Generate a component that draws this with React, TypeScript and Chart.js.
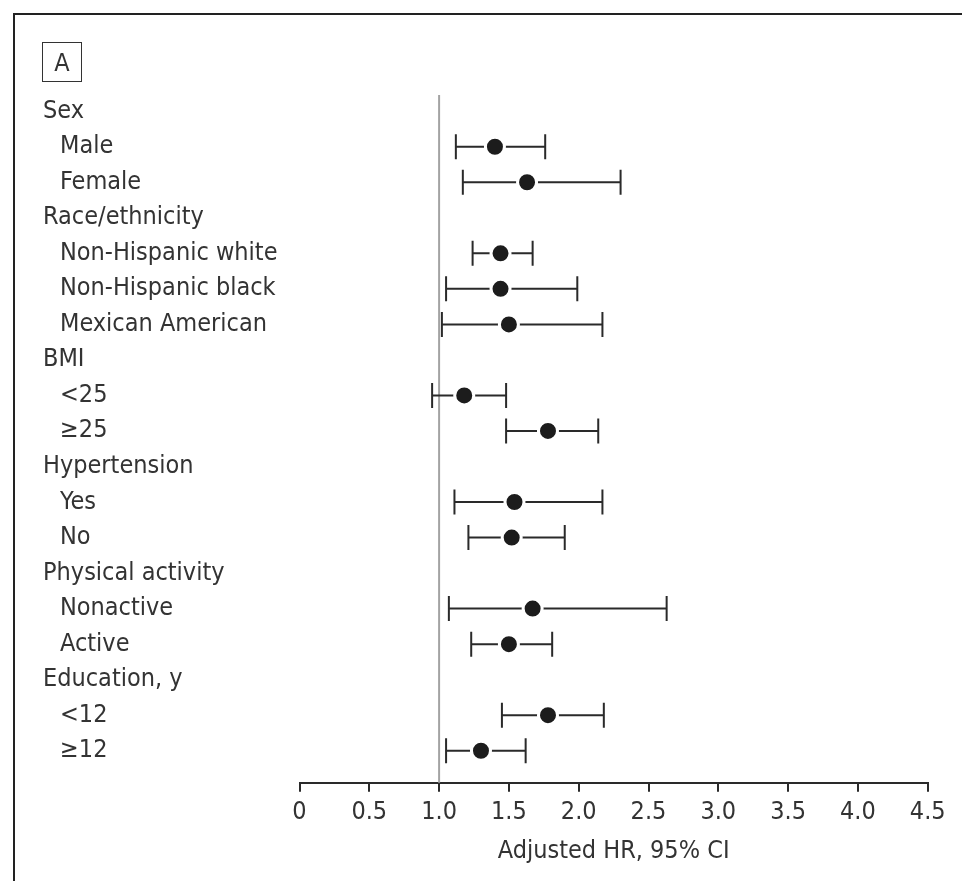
import React, { useEffect, useRef } from 'react';
import { Chart, registerables } from 'chart.js';

Chart.register(...registerables);

// ---- data ----
const rowLabels = [
  'Sex', 'Male', 'Female',
  'Race/ethnicity', 'Non-Hispanic white', 'Non-Hispanic black', 'Mexican American',
  'BMI', '<25', '≥25',
  'Hypertension', 'Yes', 'No',
  'Physical activity', 'Nonactive', 'Active',
  'Education, y', '<12', '≥12',
];
const rowIndent = [0, 1, 1, 0, 1, 1, 1, 0, 1, 1, 0, 1, 1, 0, 1, 1, 0, 1, 1];
const hrValues: (number | null)[] = [null, 1.40, 1.63, null, 1.44, 1.44, 1.50, null, 1.18, 1.78, null, 1.54, 1.52, null, 1.67, 1.50, null, 1.78, 1.30];
const ciLower: (number | null)[] = [null, 1.12, 1.17, null, 1.24, 1.05, 1.02, null, 0.95, 1.48, null, 1.11, 1.21, null, 1.07, 1.23, null, 1.45, 1.05];
const ciUpper: (number | null)[] = [null, 1.76, 2.30, null, 1.67, 1.99, 2.17, null, 1.48, 2.14, null, 2.17, 1.90, null, 2.63, 1.81, null, 2.18, 1.62];
const xTickLabels = ['0', '0.5', '1.0', '1.5', '2.0', '2.5', '3.0', '3.5', '4.0', '4.5'];
const xAxisTitle = 'Adjusted HR, 95% CI';
const panelLabel = 'A';
const referenceValue = 1.0;

const FONT = "'DejaVu Sans Condensed', 'Liberation Sans Narrow', 'Arial Narrow', sans-serif";
const INK = '#333333';
const FS = 25;

const forestPlugin = {
  id: 'forest',
  beforeDatasetsDraw(chart: any) {
    const { ctx, chartArea, scales } = chart;
    const x = scales.x;
    const y = scales.y;
    ctx.save();
    const rx = x.getPixelForValue(referenceValue);
    ctx.strokeStyle = '#a3a3a3';
    ctx.lineWidth = 2;
    ctx.beginPath();
    ctx.moveTo(rx, chartArea.top);
    ctx.lineTo(rx, chartArea.bottom);
    ctx.stroke();

    ctx.strokeStyle = '#2a2a2a';
    ctx.lineWidth = 2;
    hrValues.forEach((v, i) => {
      if (v == null) return;
      const py = y.getPixelForValue(i);
      const x0 = x.getPixelForValue(ciLower[i] as number);
      const x1 = x.getPixelForValue(ciUpper[i] as number);
      ctx.beginPath();
      ctx.moveTo(x0, py);
      ctx.lineTo(x1, py);
      ctx.moveTo(x0, py - 12.5);
      ctx.lineTo(x0, py + 12.5);
      ctx.moveTo(x1, py - 12.5);
      ctx.lineTo(x1, py + 12.5);
      ctx.stroke();
    });
    ctx.restore();
  },
  afterDraw(chart: any) {
    const { ctx, scales } = chart;
    const y = scales.y;
    ctx.save();
    ctx.font = `${FS}px ${FONT}`;
    ctx.fillStyle = INK;
    ctx.textBaseline = 'middle';
    ctx.textAlign = 'left';
    rowLabels.forEach((t, i) => {
      ctx.fillText(t, rowIndent[i] ? 60 : 43, y.getPixelForValue(i));
    });
    ctx.restore();
  },
};

export default function App() {
  const ref = useRef<HTMLCanvasElement>(null);
  useEffect(() => {
    const points = hrValues
      .map((v, i) => (v == null ? null : { x: v, y: i }))
      .filter((p) => p !== null) as { x: number; y: number }[];
    const chart = new Chart(ref.current as HTMLCanvasElement, {
      type: 'scatter',
      data: {
        datasets: [
          {
            data: points,
            pointRadius: 9.5,
            pointHoverRadius: 9.5,
            pointBackgroundColor: '#1c1c1c',
            pointBorderColor: '#ffffff',
            pointBorderWidth: 3,
            showLine: false,
          },
        ],
      },
      options: {
        animation: false,
        responsive: false,
        events: [],
        layout: { padding: { left: 299.5, right: 34.3, top: 95, bottom: 0 } },
        plugins: { legend: { display: false }, tooltip: { enabled: false } },
        scales: {
          x: {
            type: 'linear',
            position: 'bottom',
            min: 0,
            max: 4.5,
            afterFit: (s: any) => {
              s.height = 881 - 782.7;
            },
            ticks: {
              stepSize: 0.5,
              autoSkip: false,
              maxRotation: 0,
              padding: 6,
              color: INK,
              font: { family: FONT, size: FS },
              callback: (_v: any, i: number) => xTickLabels[i],
            },
            grid: {
              drawOnChartArea: false,
              drawTicks: true,
              tickLength: 9,
              color: '#2a2a2a',
              lineWidth: 2,
            },
            border: { display: true, color: '#2a2a2a', width: 2 },
            title: {
              display: true,
              text: xAxisTitle,
              color: INK,
              font: { family: FONT, size: FS },
              padding: { top: 2, bottom: 15 },
            },
          },
          y: {
            type: 'linear',
            min: -0.456,
            max: 18.9,
            reverse: true,
            display: false,
          },
        },
      },
      plugins: [forestPlugin],
    } as any);
    return () => chart.destroy();
  }, []);

  return (
    <div style={{ position: 'absolute', left: 0, top: 0, width: 962, height: 881, background: '#fff', overflow: 'hidden' }}>
      <canvas ref={ref} width={962} height={881} style={{ position: 'absolute', left: 0, top: 0, width: 962, height: 881 }} />
      <div
        style={{
          position: 'absolute', left: 13, top: 13, width: 980, height: 900,
          borderTop: '2px solid #222', borderLeft: '2px solid #222', pointerEvents: 'none',
        }}
      />
      <div
        style={{
          position: 'absolute', left: 42, top: 42, width: 38, height: 38,
          border: '1.5px solid #333', color: INK, font: `${FS}px ${FONT}`,
          display: 'flex', alignItems: 'center', justifyContent: 'center', lineHeight: 1,
        }}
      >
        {panelLabel}
      </div>
    </div>
  );
}
